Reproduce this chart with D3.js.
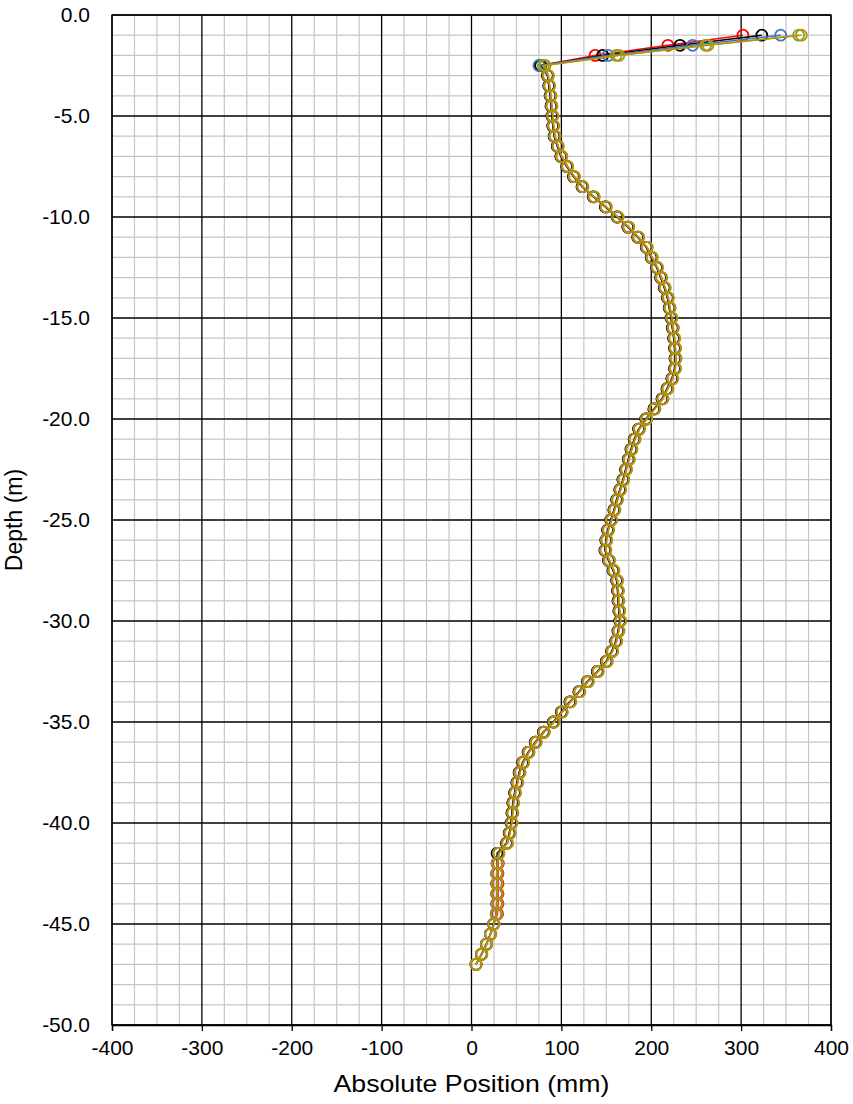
<!DOCTYPE html>
<html><head><meta charset="utf-8">
<script src="https://cdn.jsdelivr.net/npm/d3@7"></script>
<style>body{margin:0;background:#fff}svg{display:block}</style>
</head><body>
<script>
const depths = [-1.0,-1.5,-2.0,-2.5,-3.0,-3.5,-4.0,-4.5,-5.0,-5.5,
 -6.0,-6.5,-7.0,-7.5,-8.0,-8.5,-9.0,-9.5,-10.0,-10.5,
 -11.0,-11.5,-12.0,-12.5,-13.0,-13.5,-14.0,-14.5,-15.0,-15.5,
 -16.0,-16.5,-17.0,-17.5,-18.0,-18.5,-19.0,-19.5,-20.0,-20.5,
 -21.0,-21.5,-22.0,-22.5,-23.0,-23.5,-24.0,-24.5,-25.0,-25.5,
 -26.0,-26.5,-27.0,-27.5,-28.0,-28.5,-29.0,-29.5,-30.0,-30.5,
 -31.0,-31.5,-32.0,-32.5,-33.0,-33.5,-34.0,-34.5,-35.0,-35.5,
 -36.0,-36.5,-37.0,-37.5,-38.0,-38.5,-39.0,-39.5,-40.0,-40.5,
 -41.0,-41.5,-42.0,-42.5,-43.0,-43.5,-44.0,-44.5,-45.0,-45.5,
 -46.0,-46.5,-47.0];

const redSeries = [302,218.5,137.5,76,84.5,86,87.5,88.5,89.5,90.5,
 92,95.5,99.5,106,113.5,123,135.5,149,162,174,
 185,194.5,200,206,210.5,214.5,218,220,222,223.5,
 225,226,226.5,226,223,217.5,212,203,194,186,
 181,177.5,174.5,171.5,168.5,165,161.5,158.5,155,151.5,
 149.5,148.5,152.5,157.5,161.5,162.5,163,164,165,163,
 160.5,156,150,140,129,119.5,109.5,100,91,80,
 71,63,57,53,50.5,48,46,45,44,42,
 39,30,29.8,29.5,29.5,29.5,29.5,29,25,21,
 16.5,11,5];

const blackSeries = [323,232,146,77,84.5,86,87.5,88.5,89.5,90.5,
 92,95.5,99.5,106,113.5,123,135.5,149,162,174,
 185,194.5,200,206,210.5,214.5,218,220,222,223.5,
 225,226,226.5,226,223,217.5,212,203,194,186,
 181,177.5,174.5,171.5,168.5,165,161.5,158.5,155,151.5,
 149.5,148.5,152.5,157.5,161.5,162.5,163,164,165,163,
 160.5,156,150,140,129,119.5,109.5,100,91,80,
 71,63,57,53,50.5,48,46,45,44,42,
 39,28.5,28.5,28,28,28,28,27.5,24.5,21,
 16.5,11,5];

const blueSeries = [344,246,152,75,85,86.5,88,89,90,91,
 92.5,96,100,106.5,114,123.5,136,149.5,162.5,174.5,
 185.5,195,200.5,206.5,211,215,218.5,220.5,222.5,224,
 225.5,226.5,227,226.5,223.5,218,212.5,203.5,194.5,186.5,
 181.5,178,175,172,169,165.5,162,159,155.5,152,
 150,149,153,158,162,163,163.5,164.5,165.5,163.5,
 161,156.5,150.5,140.5,129.5,120,110,100.5,91.5,80.5,
 71.5,63.5,57.5,53.5,51,48.5,46.5,45.5,44.5,42.5,
 39.5,30,28.5,28,28,28,28,27.5,24.5,21,
 16.5,11,5];

const greenSeries = [364,260.5,161,80,85.5,87,88.5,89.5,90.5,91.5,
 93,96.5,100.5,107,114.5,124,136.5,150,163,175,
 186,195.5,201,207,211.5,215.5,219,221,223,224.5,
 226,227,227.5,227,224,218.5,213,204,195,187,
 182,178.5,175.5,172.5,169.5,166,162.5,159.5,156,152.5,
 150.5,149.5,153.5,158.5,162.5,163.5,164,165,166,164,
 161.5,157,151,141,130,120.5,110.5,101,92,81,
 72,64,58,54,51.5,49,47,46,45,43,
 40,30.5,29,28.5,28.5,28.5,28.5,28,25,21.5,
 17,11.5,5];

const goldSeries = [367,263,164,82,85.5,87,88.5,89.5,90.5,91.5,
 93,96.5,100.5,107,114.5,124,136.5,150,163,175,
 186,195.5,201,207,211.5,215.5,219,221,223,224.5,
 226,227,227.5,227,224,218.5,213,204,195,187,
 182,178.5,175.5,172.5,169.5,166,162.5,159.5,156,152.5,
 150.5,149.5,153.5,158.5,162.5,163.5,164,165,166,164,
 161.5,157,151,141,130,120.5,110.5,101,92,81,
 72,64,58,54,51.5,49,47,46,45,43,
 40,30.5,29,28.5,28.5,28.5,28.5,28,25,21.5,
 17,11.5,5];

const seriesNames = ["red","black","blue","green","gold"];
const seriesColors = ["#FF0000","#000000","#4472C4","#70AD47","#BF9000"];
const seriesValues = [redSeries, blackSeries, blueSeries, greenSeries, goldSeries];

const xTicks = [-400,-300,-200,-100,0,100,200,300,400];
const yTicks = [0,-5,-10,-15,-20,-25,-30,-35,-40,-45,-50];

const W = 853, H = 1104;
const L = 112, R = 831, T = 15, B = 1025;
const FONT = "Liberation Sans, Arial, sans-serif";

const svg = d3.select("body").append("svg").attr("width", W).attr("height", H);
const x = d3.scaleLinear().domain([-400, 400]).range([L, R]);
const y = d3.scaleLinear().domain([0, -50]).range([T, B]);

// minor grid
const gMinor = svg.append("g");
gMinor.selectAll("line.vx").data(d3.range(-400, 401, 25).filter(v => v % 100 !== 0))
  .join("line").attr("x1", d => x(d)).attr("x2", d => x(d)).attr("y1", T).attr("y2", B)
  .attr("stroke", "#c6c6c6").attr("stroke-width", 1.2);
gMinor.selectAll("line.hy").data(d3.range(0, -51, -1).filter(v => v % 5 !== 0))
  .join("line").attr("x1", L).attr("x2", R).attr("y1", d => y(d)).attr("y2", d => y(d))
  .attr("stroke", "#c6c6c6").attr("stroke-width", 1.2);

// major grid
const gMajor = svg.append("g");
gMajor.selectAll("line.v").data(xTicks).join("line")
  .attr("x1", d => x(d)).attr("x2", d => x(d)).attr("y1", T).attr("y2", B)
  .attr("stroke", "#000").attr("stroke-width", 1.3);
gMajor.selectAll("line.h").data(yTicks).join("line")
  .attr("x1", L).attr("x2", R).attr("y1", d => y(d)).attr("y2", d => y(d))
  .attr("stroke", "#000").attr("stroke-width", 1.3);

svg.append("rect").attr("x", L).attr("y", T).attr("width", R - L).attr("height", B - T)
  .attr("fill", "none").attr("stroke", "#000").attr("stroke-width", 1.3);

// axes
const hy = s => s.replace("\u2212", "-");
const xAxis = d3.axisBottom(x).tickValues(xTicks).tickSize(6)
  .tickFormat(d => hy(d3.format("d")(d)));
const gx = svg.append("g").attr("transform", `translate(0,${B})`).call(xAxis);
gx.select(".domain").attr("stroke", "#000").attr("stroke-width", 1.3);
gx.selectAll(".tick line").attr("stroke", "#000").attr("stroke-width", 1.3);
gx.selectAll(".tick text").attr("font-family", FONT)
  .attr("font-size", 21).attr("fill", "#000").attr("dy", "0.98em");

const yAxis = d3.axisLeft(y).tickValues(yTicks).tickSize(0).tickPadding(22)
  .tickFormat(d => hy(d3.format(".1f")(d)));
const gy = svg.append("g").attr("transform", `translate(${L},0)`).call(yAxis);
gy.select(".domain").remove();
gy.selectAll(".tick text").attr("font-family", FONT)
  .attr("font-size", 21).attr("fill", "#000");

svg.append("text").attr("x", (L + R) / 2).attr("y", 1092).attr("text-anchor", "middle")
  .attr("font-family", FONT).attr("font-size", 24)
  .attr("textLength", 276).attr("lengthAdjust", "spacingAndGlyphs")
  .text("Absolute Position (mm)");
svg.append("text").attr("transform", `translate(22,${(T + B) / 2}) rotate(-90)`)
  .attr("text-anchor", "middle")
  .attr("font-family", FONT).attr("font-size", 23)
  .text("Depth (m)");

// series
const line = d3.line().x(d => x(d[0])).y(d => y(d[1]));
seriesValues.forEach((vals, i) => {
  const pts = vals.map((v, j) => [v, depths[j]]);
  const g = svg.append("g").attr("class", "series-" + seriesNames[i]);
  g.append("path").datum(pts).attr("d", line).attr("fill", "none")
    .attr("stroke", seriesColors[i]).attr("stroke-width", 1.5);
  g.selectAll("circle").data(pts).join("circle")
    .attr("cx", d => x(d[0])).attr("cy", d => y(d[1])).attr("r", 5.5)
    .attr("fill", "none").attr("stroke", seriesColors[i]).attr("stroke-width", 1.8);
});
</script>
</body></html>
